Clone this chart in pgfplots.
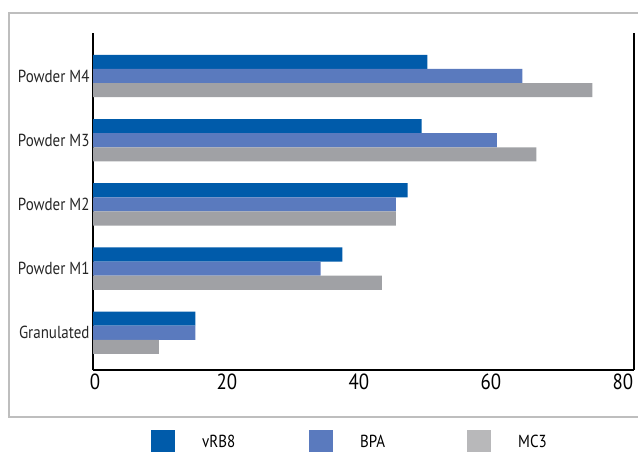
\documentclass[border=0pt]{standalone}
\usepackage{fontspec}
\setmainfont{PT Sans}[FakeStretch=0.86]
\usepackage{pgfplots}
\pgfplotsset{compat=1.18}
\definecolor{vrb}{HTML}{005BAA}
\definecolor{bpa}{HTML}{5A7ABE}
\definecolor{mcbar}{HTML}{A0A1A5}
\definecolor{mcleg}{HTML}{B8B8BA}
\definecolor{framegray}{HTML}{BEBEBE}

\begin{document}
\begin{tikzpicture}
\useasboundingbox (0,0) rectangle (638bp,454bp);
\clip (0,0) rectangle (638bp,454bp);
% outer frame, open to the right
\draw[framegray, line width=1.3bp] (9bp,37bp) rectangle (680bp,441bp);
\begin{axis}[
    at={(93bp,84bp)}, anchor=south west,
    scale only axis, width=541bp, height=337bp,
    xbar, bar width=0.22,
    clip=false,
    xmin=0, xmax=82, ymin=-0.58, ymax=4.67,
    axis x line*=bottom, axis y line*=left,
    axis line style={-, black, line width=1.3bp},
    xtick={0,20,40,60,80}, ytick={0,1,2,3,4},
    yticklabels={Granulated,Powder M1,Powder M2,Powder M3,Powder M4},
    major tick length=0pt,
    /pgf/number format/assume math mode=true,
    xticklabel style={font=\fontsize{22}{26}\selectfont, xshift=2bp},
    yticklabel style={font=\fontsize{17.5}{20}\selectfont, text=black!85},
    legend style={at={(0.1072,-0.178)}, anchor=north west, draw=none, fill=none,
        inner sep=0pt, font=\fontsize{17.5}{20}\selectfont,
        cells={anchor=west}, nodes={inner sep=0pt, text depth=0pt},
        /tikz/every odd column/.append style={column sep=27bp},
        /tikz/every even column/.append style={column sep=27bp}},
    legend columns=3,
]
\addplot[fill=vrb, draw=none, bar shift=0.22,
    legend image code/.code={\fill[vrb] (0bp,-11bp) rectangle (24bp,11bp);}]
    coordinates {(15.5,0) (37.8,1) (47.7,2) (49.8,3) (50.7,4)};
\addlegendentry{\makebox[80bp][l]{vRB8}}
\addplot[fill=bpa, draw=none, bar shift=0,
    legend image code/.code={\fill[bpa] (0bp,-11bp) rectangle (24bp,11bp);}]
    coordinates {(15.5,0) (34.5,1) (45.9,2) (61.2,3) (65.1,4)};
\addlegendentry{\makebox[80bp][l]{BPA}}
\addplot[fill=mcbar, draw=none, bar shift=-0.22,
    legend image code/.code={\fill[mcleg] (0bp,-11bp) rectangle (24bp,11bp);}]
    coordinates {(10.0,0) (43.8,1) (45.9,2) (67.2,3) (75.7,4)};
\addlegendentry{\makebox[80bp][l]{MC3}}
% right axis line (no top line in the original)
\draw[black, line width=1.3bp] (rel axis cs:1,0) -- (rel axis cs:1,1);
\end{axis}
\end{tikzpicture}
\end{document}
